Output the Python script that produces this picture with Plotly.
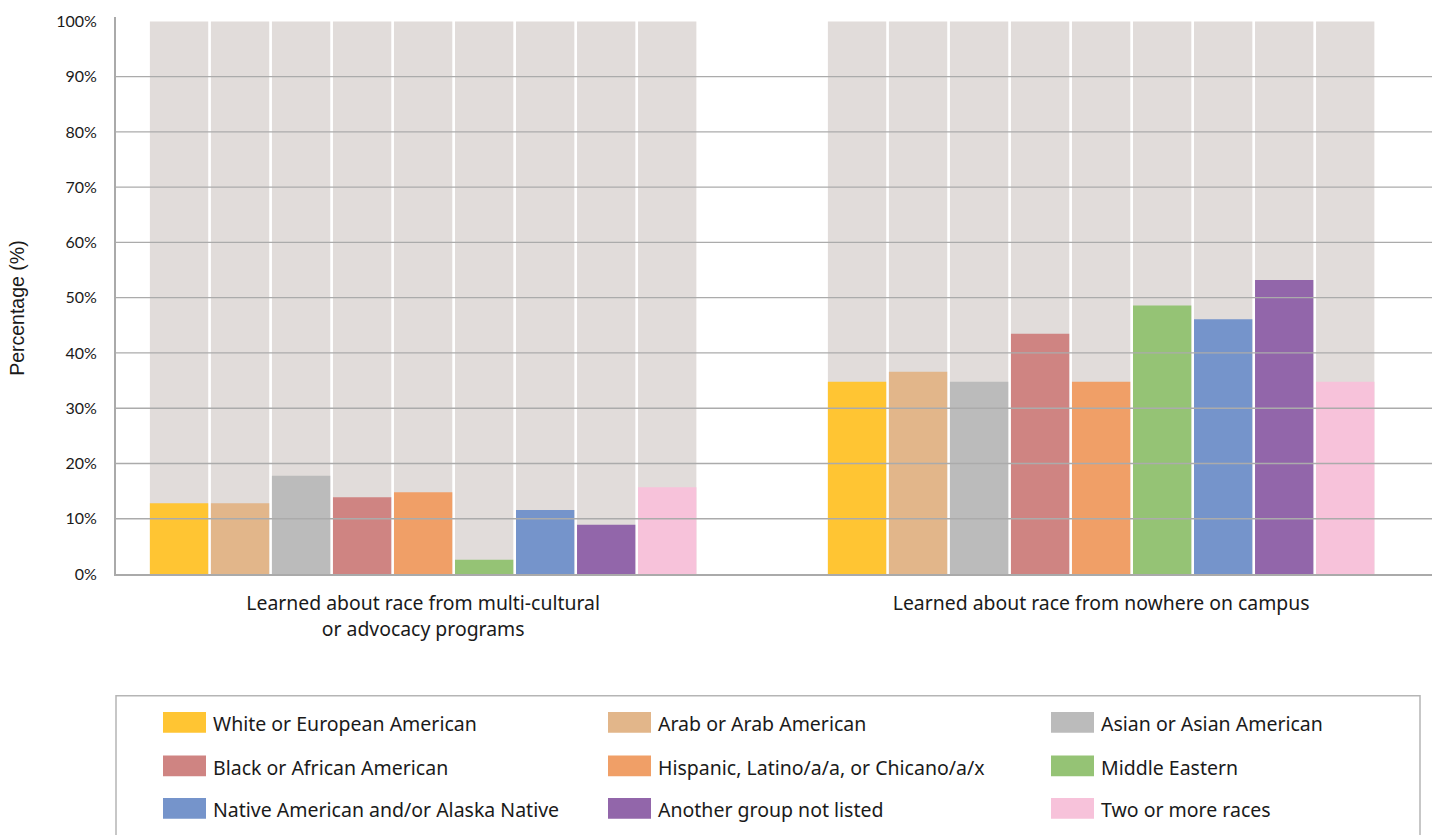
import plotly.graph_objects as go

# Survey categories (x axis) and respondent groups (one bar per group)
categories = [
    "Learned about race from multi-cultural<br>or advocacy programs",
    "Learned about race from nowhere on campus",
]
groups = [
    "White or European American",
    "Arab or Arab American",
    "Asian or Asian American",
    "Black or African American",
    "Hispanic, Latino/a/a, or Chicano/a/x",
    "Middle Eastern",
    "Native American and/or Alaska Native",
    "Another group not listed",
    "Two or more races",
]
multicultural_pct = [12.8, 12.8, 17.8, 13.9, 14.8, 2.6, 11.6, 8.9, 15.7]
nowhere_pct = [34.8, 36.6, 34.8, 43.5, 34.8, 48.6, 46.1, 53.2, 34.8]
full_scale = [100, 100]

colors = ["#FFC533", "#E2B68A", "#BBBBBB", "#CF8482", "#F09F67",
          "#95C375", "#7594CB", "#9266AA", "#F7C2DA"]
track_color = "#E1DCDA"

y_ticks = [0, 10, 20, 30, 40, 50, 60, 70, 80, 90, 100]
y_tick_labels = ["0%", "10%", "20%", "30%", "40%", "50%", "60%", "70%", "80%", "90%", "100%"]

W, H = 1443, 835
L, R, T, B = 116, 11, 11, 261
pw, ph = W - L - R, H - T - B

fig = go.Figure()

# grey 100% tracks behind each bar
for i in range(len(groups)):
    fig.add_trace(go.Bar(
        x=categories, y=full_scale, offsetgroup=str(i),
        marker=dict(color=track_color, line=dict(width=0)),
        showlegend=False, hoverinfo="skip",
    ))

# coloured value bars
for i, name in enumerate(groups):
    fig.add_trace(go.Bar(
        x=categories, y=[multicultural_pct[i], nowhere_pct[i]], offsetgroup=str(i),
        name=name, marker=dict(color=colors[i], line=dict(width=0)),
        showlegend=False,
    ))

grid_color = "#ABABAB"
shapes = []
# horizontal grid lines drawn above the bars
for v in y_ticks[1:-1]:
    shapes.append(dict(type="line", xref="paper", yref="y", x0=0, x1=1, y0=v, y1=v,
                       line=dict(color=grid_color, width=1.3), layer="above"))


def px_x(x):
    return (x - L) / pw


def px_y(y):
    return (T + ph - y) / ph


# legend frame
shapes.append(dict(type="rect", xref="paper", yref="paper",
                   x0=px_x(116), x1=px_x(1420), y0=px_y(845), y1=px_y(697),
                   line=dict(color="#B5B5B5", width=1.5), fillcolor="rgba(0,0,0,0)",
                   layer="above"))

annotations = []
col_x = [163, 608, 1051]
row_y = [724, 768, 811]
for i, name in enumerate(groups):
    cx = col_x[i % 3]
    cy = row_y[i // 3]
    shapes.append(dict(type="rect", xref="paper", yref="paper",
                       x0=px_x(cx), x1=px_x(cx + 43), y0=px_y(cy + 10.5), y1=px_y(cy - 10.5),
                       line=dict(width=0), fillcolor=colors[i], layer="above"))
    annotations.append(dict(xref="paper", yref="paper", x=px_x(cx + 48), y=px_y(cy + 1.5),
                            text=name, showarrow=False, xanchor="left", yanchor="middle",
                            font=dict(family="Noto Sans", size=19.5, color="#1A1A1A")))

# y-axis title
annotations.append(dict(xref="paper", yref="paper", x=px_x(17), y=px_y(306),
                        text="Percentage (%)", showarrow=False, textangle=-90,
                        xanchor="center", yanchor="middle",
                        font=dict(family="Liberation Sans", size=19.5, color="#1A1A1A")))

fig.update_layout(
    width=W, height=H,
    margin=dict(l=L, r=R, t=T, b=B, pad=0),
    paper_bgcolor="white", plot_bgcolor="white",
    barmode="group", bargap=0.19, bargroupgap=0.044,
    showlegend=False,
    shapes=shapes, annotations=annotations,
    font=dict(family="Noto Sans", color="#1A1A1A"),
    xaxis=dict(
        type="category", range=[-0.453, 1.488],
        showgrid=False, showline=True, linecolor="#AAAAAA", linewidth=2,
        ticks="", ticklabelstandoff=11,
        tickfont=dict(family="Noto Sans", size=19.4, color="#1A1A1A"),
        layer="above traces",
    ),
    yaxis=dict(
        range=[0, 100.8], tickvals=y_ticks, ticktext=y_tick_labels,
        showgrid=False, zeroline=False,
        showline=True, linecolor="#AAAAAA", linewidth=2,
        ticks="", ticklabelstandoff=14,
        tickfont=dict(family="Lato", size=16, color="#1A1A1A"),
        layer="above traces",
    ),
)

fig.write_html("out.html")
